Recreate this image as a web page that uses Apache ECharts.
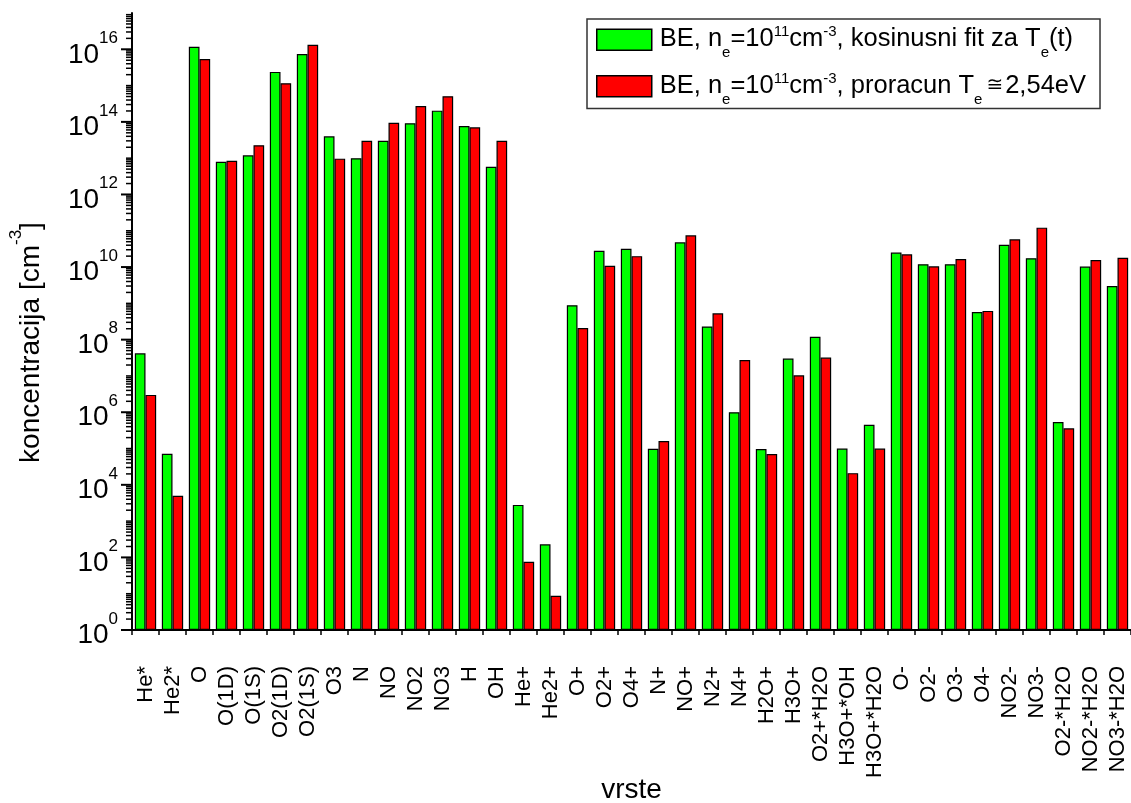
<!DOCTYPE html>
<html>
<head>
<meta charset="utf-8">
<title>koncentracija vrsta</title>
<script src="https://cdn.jsdelivr.net/npm/echarts@6/dist/echarts.min.js"></script>
<style>
  html, body { margin: 0; padding: 0; background: #ffffff; }
  #chart { width: 1131px; height: 803px; }
</style>
</head>
<body>
<div id="chart"></div>
<script>
// Species (x axis categories)
const categories = [
  'He*', 'He2*', 'O', 'O(1D)', 'O(1S)', 'O2(1D)', 'O2(1S)', 'O3', 'N', 'NO',
  'NO2', 'NO3', 'H', 'OH', 'He+', 'He2+', 'O+', 'O2+', 'O4+', 'N+',
  'NO+', 'N2+', 'N4+', 'H2O+', 'H3O+', 'O2+*H2O', 'H3O+*OH', 'H3O+*H2O', 'O-', 'O2-',
  'O3-', 'O4-', 'NO2-', 'NO3-', 'O2-*H2O', 'NO2-*H2O', 'NO3-*H2O'
];

// Concentrations [cm^-3], cosine fit of Te(t)
const cosineFit = [
  4.2e7, 7.2e4, 1.18e16, 8.0e12, 1.2e13, 2.38e15, 7.4e15, 4.0e13, 1.0e13, 3.0e13,
  9.2e13, 2.04e14, 7.7e13, 5.8e12, 2.8e3, 230, 8.9e8, 2.8e10, 3.2e10, 9.9e4,
  4.8e10, 2.3e8, 1.0e6, 9.7e4, 3.0e7, 1.2e8, 1.0e5, 4.5e5, 2.5e10, 1.2e10,
  1.2e10, 5.8e8, 4.1e10, 1.75e10, 5.4e5, 1.03e10, 3.0e9
];

// Concentrations [cm^-3], calculated Te = 2.54 eV
const calcTe = [
  3.0e6, 5.0e3, 5.4e15, 8.5e12, 2.27e13, 1.16e15, 1.34e16, 9.7e12, 3.0e13, 9.5e13,
  2.75e14, 5.1e14, 7.1e13, 3.0e13, 76, 8.8, 2.1e8, 1.09e10, 2.0e10, 1.6e5,
  7.5e10, 5.3e8, 2.75e7, 7.1e4, 1.04e7, 3.2e7, 2.1e4, 1.0e5, 2.25e10, 1.05e10,
  1.67e10, 6.2e8, 5.8e10, 1.22e11, 3.6e5, 1.57e10, 1.8e10
];

const seriesNames = ['BE kosinusni fit', 'BE proracun'];

// Log axis range as decade exponents
const yMinExp = 0;
const yMaxExp = 17;

const FONT = '"Liberation Sans", Arial, "DejaVu Sans", sans-serif';

// Tick marks on the log axis: long at even decades, short at 2..9 x 10^n and odd decades
const yTicks = [];
for (let n = yMinExp; n < yMaxExp; n++) {
  yTicks.push([0, Math.pow(10, n), n % 2 === 0 ? 11 : 6]);
  for (let k = 2; k <= 9; k++) yTicks.push([0, k * Math.pow(10, n), 6]);
}
const xBounds = categories.map((c, i) => [i, 1]);

const chart = echarts.init(document.getElementById('chart'), null, { renderer: 'canvas' });

// Legend rich styles: tokens top-aligned; sub/sup get a tiny box height and
// a padding-top that places them below/above the main text.
const legendRich = {
  t: { fontSize: 25.5, height: 26, verticalAlign: 'top', color: '#000', fontFamily: FONT },
  t0: { fontSize: 25.5, height: 26, verticalAlign: 'top', padding: [0, 0, 0, 3], color: '#000', fontFamily: FONT },
  sup: { fontSize: 15, height: 1, verticalAlign: 'top', padding: [5.5, 0, 0, 0], color: '#000', fontFamily: FONT },
  sub: { fontSize: 15, height: 1, verticalAlign: 'top', padding: [26.5, 0, 0, 0], color: '#000', fontFamily: FONT },
  sym: { fontSize: 20, height: 26, verticalAlign: 'top', padding: [0, 2, 0, 4], color: '#000', fontFamily: '"DejaVu Sans", sans-serif' }
};

const option = {
  backgroundColor: '#ffffff',
  animation: false,
  textStyle: { fontFamily: FONT },
  grid: { left: 132, right: 0, top: 13, bottom: 173, containLabel: false, outerBoundsMode: 'none' },
  legend: {
    data: seriesNames,
    orient: 'vertical',
    left: 587,
    top: 19,
    itemWidth: 55,
    itemHeight: 21,
    itemGap: 10.5,
    padding: [5.5, 14, 1.5, 9],
    borderColor: '#333',
    borderWidth: 1.5,
    icon: 'rect',
    itemStyle: { borderColor: '#000', borderWidth: 1.5 },
    textStyle: { rich: legendRich },
    formatter: function (name) {
      const head = '{t0|BE, n}{sub|e}{t|=10}{sup|11}{t|cm}{sup|-3}';
      if (name === seriesNames[0]) return head + '{t|, kosinusni fit za T}{sub|e}{t|(t)}';
      return head + '{t|, proracun T}{sub|e}{sym|≅}{t|2,54eV}';
    }
  },
  xAxis: {
    type: 'category',
    data: categories,
    name: 'vrste',
    nameLocation: 'middle',
    nameGap: 146,
    nameMoveOverlap: false,
    nameTextStyle: { fontSize: 28, color: '#000', fontFamily: FONT },
    axisLine: { lineStyle: { color: '#000', width: 2 } },
    axisTick: { alignWithLabel: true, interval: 0, length: 12, lineStyle: { color: '#000', width: 2 } },
    axisLabel: { interval: 0, rotate: 90, margin: 36, fontSize: 22, color: '#000', fontFamily: FONT },
    splitLine: { show: false }
  },
  yAxis: {
    type: 'log',
    logBase: 10,
    min: Math.pow(10, yMinExp),
    max: Math.pow(10, yMaxExp),
    interval: 2,
    splitNumber: 8,
    name: '{a|koncentracija [cm}{s|-3}{a|]}',
    nameLocation: 'middle',
    nameGap: 96,
    nameMoveOverlap: false,
    nameTextStyle: {
      padding: [0, 42, 0, 0],
      rich: {
        a: { fontSize: 28, lineHeight: 28, verticalAlign: 'top', padding: [9.5, 0, 0, 0], color: '#000', fontFamily: FONT },
        s: { fontSize: 17, lineHeight: 17, verticalAlign: 'top', color: '#000', fontFamily: FONT }
      }
    },
    axisLine: { show: true, lineStyle: { color: '#000', width: 2 } },
    axisTick: { show: false },
    splitLine: { show: false },
    axisLabel: {
      margin: 14,
      formatter: function (v) {
        const e = Math.round(Math.log10(v));
        if (e % 2 !== 0) return '';
        return '{b|10}{s|' + e + '}';
      },
      rich: {
        b: { fontSize: 28, lineHeight: 39, verticalAlign: 'top', padding: [11, 0, 0, 0], color: '#000', fontFamily: FONT },
        s: { fontSize: 17, lineHeight: 17, verticalAlign: 'top', color: '#000', fontFamily: FONT }
      }
    }
  },
  series: [
    {
      name: seriesNames[0],
      type: 'bar',
      data: cosineFit,
      barGap: '0%',
      barCategoryGap: '21%',
      itemStyle: { color: '#00ff00', borderColor: '#000', borderWidth: 1.2 }
    },
    {
      name: seriesNames[1],
      type: 'bar',
      data: calcTe,
      barGap: '0%',
      barCategoryGap: '21%',
      itemStyle: { color: '#ff0000', borderColor: '#000', borderWidth: 1.2 }
    },
    {
      // y-axis tick marks (major + minor) on the log scale
      type: 'custom',
      silent: true,
      clip: false,
      data: yTicks,
      encode: { x: 0, y: 1 },
      renderItem: function (params, api) {
        const cs = params.coordSys;
        const y = api.coord([0, api.value(1)])[1];
        const len = api.value(2);
        return {
          type: 'line',
          shape: { x1: cs.x - len, y1: y, x2: cs.x, y2: y },
          style: { stroke: '#000', lineWidth: len > 8 ? 2 : 1.5 }
        };
      }
    },
    {
      // short ticks on category boundaries
      type: 'custom',
      silent: true,
      clip: false,
      data: xBounds,
      encode: { x: 0, y: 1 },
      renderItem: function (params, api) {
        const cs = params.coordSys;
        const idx = api.value(0);
        const cx = api.coord([idx, 1])[0];
        const bw = api.size([1, 0])[0];
        const yb = cs.y + cs.height;
        const lines = [{
          type: 'line',
          shape: { x1: cx - bw / 2, y1: yb, x2: cx - bw / 2, y2: yb + 5 },
          style: { stroke: '#000', lineWidth: 1.5 }
        }];
        if (idx === categories.length - 1) {
          lines.push({
            type: 'line',
            shape: { x1: cx + bw / 2, y1: yb, x2: cx + bw / 2, y2: yb + 5 },
            style: { stroke: '#000', lineWidth: 1.5 }
          });
        }
        return { type: 'group', children: lines };
      }
    }
  ]
};

chart.setOption(option);
</script>
</body>
</html>
